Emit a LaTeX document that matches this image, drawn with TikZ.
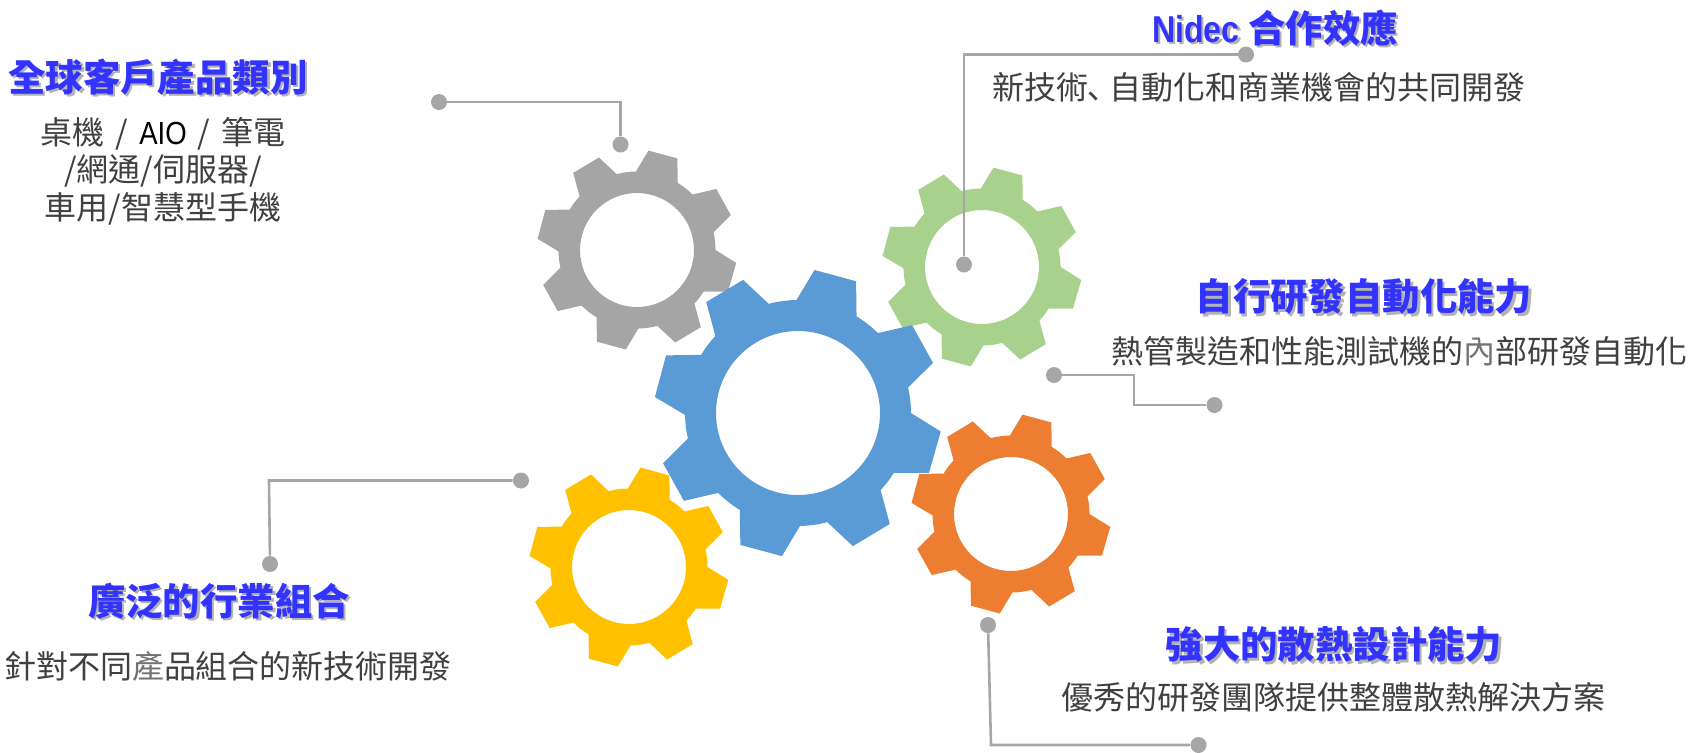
\documentclass[tikz,border=0pt]{standalone}
\usepackage{fontspec}
\setmainfont{Noto Sans CJK TC}
\newfontfamily\narrowLatin[FakeStretch=0.86]{Liberation Sans}
\definecolor{gearBlue}{HTML}{5B9BD5}
\definecolor{gearOrange}{HTML}{ED7D31}
\definecolor{gearGray}{HTML}{A5A5A5}
\definecolor{gearYellow}{HTML}{FFC000}
\definecolor{gearGreen}{HTML}{A9D18E}
\definecolor{leaderGray}{HTML}{A6A6A6}
\definecolor{bodyGray}{HTML}{404040}
\definecolor{titleBlue}{HTML}{3333FF}
\newcommand{\softShadow}[1]{\makebox[0pt][l]{\hspace{1.2pt}\raisebox{-1.2pt}{\textcolor{black!30}{#1}}}#1}
\newcommand{\paleChar}[1]{\textcolor{black!55}{#1}}
\begin{document}
\begin{tikzpicture}[x=0.5pt, y=-0.5pt,
gearWheel/.pic={
	\fill[pic actions, even odd rule, yscale=-1] (90.8:113)
		\foreach \a/\n in {74.8/29,29/-16,-16/-59,-59/-105,-105/-151,-151/-195,-195/-239,-239/-285.2} {
			-- (\a+16:113) -- (\a+8.6:144) -- (\a-8.6:144) -- (\a-16:113)
			arc[start angle=\a-16, end angle=\n+16, radius=113]
		} -- cycle
		(0,0) circle[radius=82];
},
rectTitle/.style={inner sep=0pt, align=center, text=titleBlue, font=\fontsize{18.7}{22}\selectfont\bfseries},
rectBody/.style={inner sep=0pt, align=center, text=bodyGray, font=\fontsize{16}{18.8}\selectfont},
dotLeader/.style={circle, fill=leaderGray, minimum size=8pt, inner sep=0pt},
lineLeader/.style={draw=leaderGray, line width=1.3pt}
]
\useasboundingbox (0,0) rectangle (1688,752);

\pic[fill=gearGray] (wheelGray) at (637,250) [scale=0.695] {gearWheel};
\pic[fill=gearGreen] (wheelGreen) at (982,267) [scale=0.695] {gearWheel};
\pic[fill=gearBlue] (wheelBlue) at (798,413) {gearWheel};
\pic[fill=gearOrange] (wheelOrange) at (1011,514) [scale=0.695] {gearWheel};
\pic[fill=gearYellow] (wheelYellow) at (629,567) [scale=0.695] {gearWheel};


\node[rectTitle] (titleClient) at (158,78) {\softShadow{全球客戶產品類別}};
\node[rectBody] (bodyClient) at (163,171) {桌機\hspace{2pt} / \hspace{2pt}\textcolor{black}{\narrowLatin AIO}\hspace{2pt} / \hspace{2pt}筆電\\/網通/伺服器/\\車用/智慧型手機};

\node[rectTitle] (titleNidec) at (1275,29) {\softShadow{{\narrowLatin Nidec} 合作效應}};
\node[rectBody] (bodyNidec) at (1259,90) {新技術\hspace{-5.4pt}\raisebox{-4.5pt}{、}自動化和商業機會的共同開發};

\node[rectTitle] (titleAuto) at (1364,298) {\softShadow{自行研發自動化能力}};
\node[rectBody] (bodyAuto) at (1399,351) {熱管製造和性能測試機的\paleChar{內}部研發自動化};

\node[rectTitle] (titleIndustry) at (219,602) {\softShadow{廣泛的行業組合}};
\node[rectBody] (bodyIndustry) at (228,666) {針對不同\paleChar{產}品組合的新技術開發};

\node[rectTitle] (titleThermal) at (1334,646) {\softShadow{強大的散熱設計能力}};
\node[rectBody] (bodyThermal) at (1333,697) {優秀的研發團隊提供整體散熱解決方案};


\node[dotLeader] (clientStart) at (439,102) {};
\node[dotLeader] (clientStop) at (620.5,144.5) {};
\node[dotLeader] (nidecStart) at (1246,54.5) {};
\node[dotLeader] (nidecStop) at (964,264.5) {};
\node[dotLeader] (autoStart) at (1054,375) {};
\node[dotLeader] (autoStop) at (1214.5,405) {};
\node[dotLeader] (industryStart) at (521,480.5) {};
\node[dotLeader] (industryStop) at (270,564) {};
\node[dotLeader] (thermalStart) at (988,625) {};
\node[dotLeader] (thermalStop) at (1198.5,745) {};

\coordinate (autoBend) at (1134,375);
\coordinate (autoBendLow) at (1134,405);
\coordinate (industryBend) at (269,480.5);
\coordinate (thermalBend) at (991,745);

\draw[lineLeader] (clientStart) -| (clientStop);
\draw[lineLeader] (nidecStart) -| (nidecStop);
\draw[lineLeader] (autoStart) -- (autoBend) -- (autoBendLow) -- (autoStop);
\draw[lineLeader] (industryStart) -- (industryBend) -- (industryStop);
\draw[lineLeader] (thermalStart) -- (thermalBend) -- (thermalStop);

\end{tikzpicture}
\end{document}
